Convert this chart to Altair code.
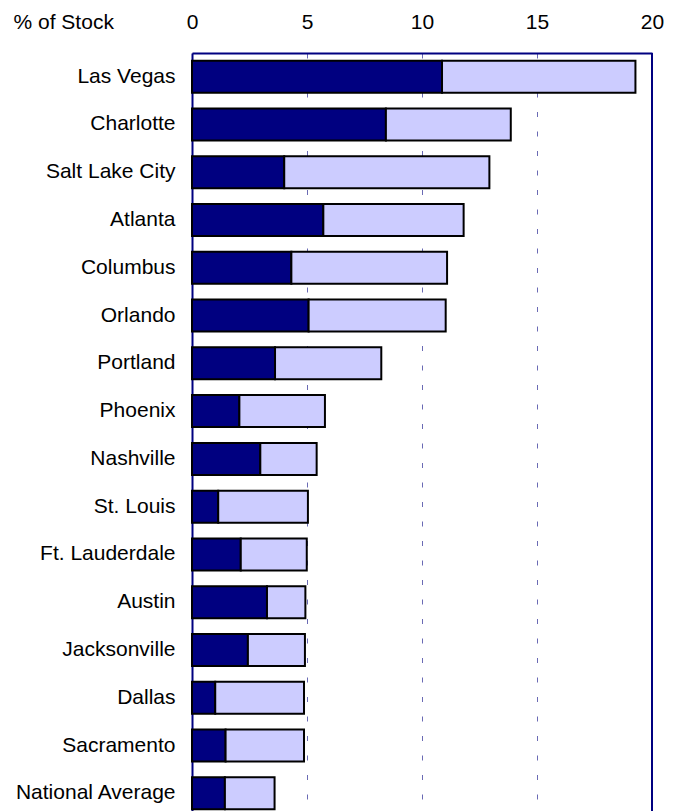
import altair as alt
import pandas as pd

cities = ["Las Vegas", "Charlotte", "Salt Lake City", "Atlanta", "Columbus",
          "Orlando", "Portland", "Phoenix", "Nashville", "St. Louis",
          "Ft. Lauderdale", "Austin", "Jacksonville", "Dallas", "Sacramento",
          "National Average"]
dark_values = [10.87, 8.43, 4.01, 5.71, 4.32, 5.07, 3.61, 2.06, 2.97, 1.14,
               2.12, 3.26, 2.43, 1.01, 1.46, 1.43]
light_values = [8.41, 5.43, 8.92, 6.10, 6.77, 5.96, 4.62, 3.72, 2.45, 3.90,
                2.87, 1.67, 2.48, 3.86, 3.41, 2.16]
series_names = ["Series 1", "Series 2"]
series_colors = ["#000080", "#CCCCFF"]
x_ticks = [0, 5, 10, 15, 20]

rows = []
for c, d, l in zip(cities, dark_values, light_values):
    rows.append({"city": c, "series": series_names[0], "value": d, "ord": 0})
    rows.append({"city": c, "series": series_names[1], "value": l, "ord": 1})
df = pd.DataFrame(rows)

FONT = "Liberation Sans"
NAVY = "#000080"
FS = 21

x_enc = alt.X(
    "value:Q",
    stack="zero",
    scale=alt.Scale(domain=[0, 20], nice=False),
    axis=alt.Axis(
        orient="top", values=x_ticks, ticks=False, grid=True,
        gridDash=[5, 14.5], gridColor="#6a6ab4", gridWidth=1,
        domain=True, domainColor=NAVY, domainWidth=2,
        labelFont=FONT, labelFontSize=FS, labelColor="black",
        labelPadding=25, labelBaseline="alphabetic", labelFlush=False,
        title="% of Stock", titleX=-179, titleY=-25, titleAlign="left",
        titleBaseline="alphabetic", titleAngle=0, titleFontWeight="normal",
        titleFont=FONT, titleFontSize=FS, titleColor="black",
    ),
)

bars = alt.Chart(df).mark_bar(stroke="black", strokeWidth=2).encode(
    y=alt.Y(
        "city:N", sort=cities,
        scale=alt.Scale(range=[0, 764], paddingInner=0.33, paddingOuter=0.16),
        axis=alt.Axis(
            title=None, ticks=False, grid=False, domain=True,
            domainColor=NAVY, domainWidth=2,
            labelFont=FONT, labelFontSize=FS, labelColor="black",
            labelPadding=17,
        ),
    ),
    x=x_enc,
    color=alt.Color("series:N",
                    scale=alt.Scale(domain=series_names, range=series_colors),
                    legend=None),
    order=alt.Order("ord:Q"),
)

rule = alt.Chart(pd.DataFrame({"value": [20]})).mark_rule(
    color=NAVY, strokeWidth=2
).encode(x=alt.X("value:Q"))

chart = alt.layer(bars, rule).properties(
    width=460, height=758,
    autosize=alt.AutoSizeParams(type="none"),
    padding={"left": 184, "top": 45, "right": 20, "bottom": 0},
).configure_view(stroke=None)

chart.save("out.html", embed_options={"renderer": "svg", "actions": False})
